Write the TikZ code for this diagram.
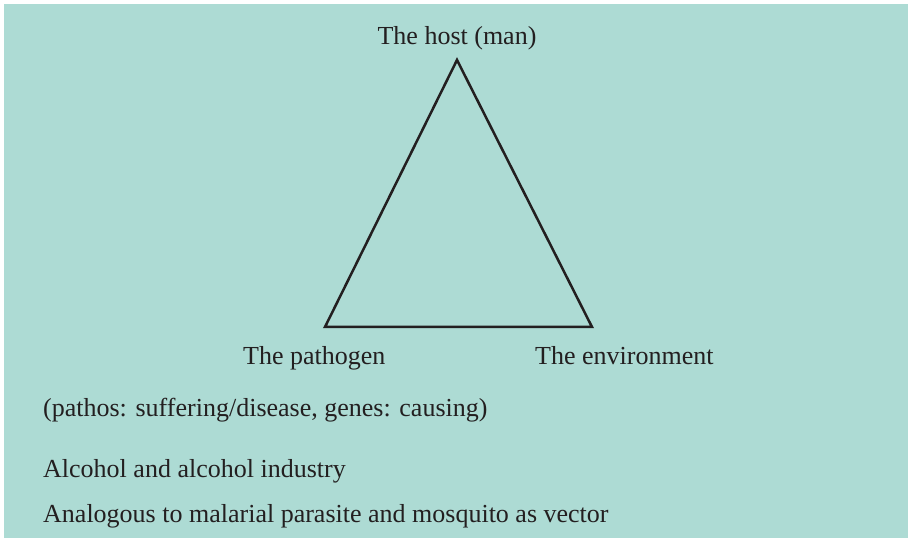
\documentclass[tikz,border=0pt]{standalone}
\usepackage{fontspec}
\setmainfont{Liberation Serif}

\definecolor{panel}{HTML}{ADDBD4}
\definecolor{ink}{HTML}{231F20}

\begin{document}
\begin{tikzpicture}[x=1pt, y=1pt]
  \tikzset{
    side/.style={draw=ink, line width=2.5pt, line join=miter},
    lbl/.style={font=\fontsize{26}{30}\selectfont, text=ink, inner sep=0pt, anchor=base west},
    toplbl/.style={lbl, anchor=base}
  }

  % page and panel
  \useasboundingbox (0,0) rectangle (911,538);
  \fill[white] (0,0) rectangle (911,538);
  \fill[panel] (4,0) rectangle (908,534);

  % corners of the triangle
  \coordinate (host) at (457,478);
  \coordinate (pathogen) at (325,211);
  \coordinate (environment) at (592,211);
  \draw[side] (host) -- (pathogen) -- (environment) -- cycle;

  % corner labels
  \node[toplbl] (hostlbl) at (457,493) {The host (man)};
  \node[lbl] (pathlbl) at (243,173) {The pathogen};
  \node[lbl] (envlbl) at (535,173) {The environment};

  % notes below
  \node[lbl] (note1) at (43,121) {(pathos: suffering/disease, genes: causing)};
  \node[lbl] (note2) at (43,60) {Alcohol and alcohol industry};
  \node[lbl] (note3) at (43,15) {Analogous to malarial parasite and mosquito as vector};

\end{tikzpicture}
\end{document}
